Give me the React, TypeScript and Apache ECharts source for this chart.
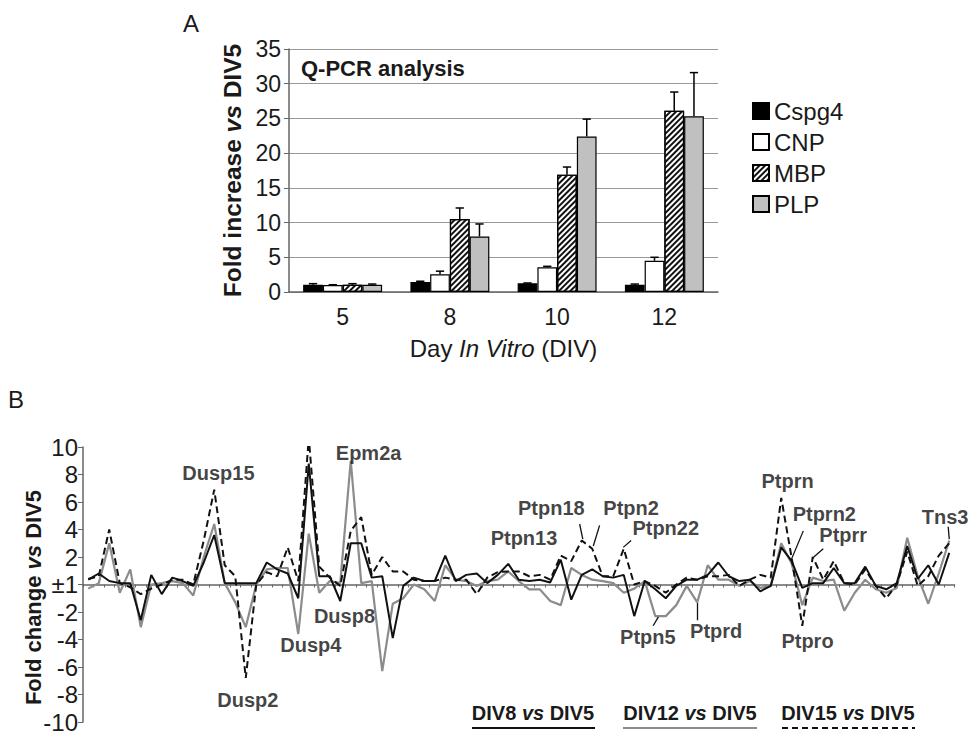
import React, { useEffect, useRef } from 'react';
import * as echarts from 'echarts';

const FONT = 'Liberation Sans, Arial, sans-serif';

// ---------- Panel A: Q-PCR ----------
const days = ['5', '8', '10', '12'];
const barNames = ['Cspg4', 'CNP', 'MBP', 'PLP'];
const cspg4 = [1.05, 1.45, 1.25, 1.05];
const cspg4Err = [1.2, 1.55, 1.3, 1.15];
const cnp = [1.0, 2.55, 3.55, 4.5];
const cnpErr = [1.05, 3.0, 3.7, 5.0];
const mbp = [1.05, 10.5, 16.9, 26.1];
const mbpErr = [1.2, 12.1, 18.0, 28.8];
const plp = [1.05, 8.0, 22.4, 25.3];
const plpErr = [1.15, 9.8, 24.9, 31.6];

// ---------- Panel B: fold change (axis units, 0 drawn as ±1) ----------
const div8 = [
  0.35, 0.8, 0.25, 0.1, 0.1, -2.6, 0.7, -0.7, 0.5, 0.25,
  -0.1, 1.6, 3.6, 0.1, 0.1, 0.1, 0.1, 1.6, 1.1, 0.8,
  -1.0, 8.8, 0.6, 0.6, -1.2, 3.0, 3.0, 0.5, 0.6, -3.9,
  -0.1, 0.5, 0.25, 0.25, 2.1, 0.25, 0.7, 0.8, 0.1, 0.7,
  1.5, 0.35, 0.25, 0.35, 0.15, 1.8, -1.1, 0.7, 1.1, 0.6,
  0.5, 0.7, -2.3, 0.25, -0.35, -1.0, -0.1, 0.35, 0.35, 0.7,
  1.6, 0.6, 0.25, 0.35, -0.5, -0.1, 2.7, 1.7, -0.25, 0.1,
  0.1, 1.2, 0.1, 0.1, 1.3, -0.1, -0.35, 0.1, 2.8, 0.4,
  1.4, 0.0, 2.3,
];
const div12 = [
  -0.3, 0.1, 3.0, -0.6, 1.1, -3.1, 0.0, 0.1, 0.25, 0.1,
  -0.8, 2.0, 4.4, 0.1, -1.3, -3.1, 0.0, 1.1, 1.2, 1.2,
  -3.6, 3.7, -0.6, 0.25, 0.1, 9.0, 0.1, 0.25, -6.3, -1.4,
  -1.0, 0.0, -0.35, -1.2, 1.4, 0.35, 0.25, -0.1, 0.25, 0.35,
  0.95, 0.25, -0.35, -0.35, -1.2, -1.5, 1.2, 0.7, 0.35, 0.25,
  0.1, -0.6, -0.3, 0.25, -2.3, -2.3, -1.5, -0.1, -1.3, 1.4,
  0.35, 0.35, -0.1, 0.25, -0.25, -0.1, 3.0, 1.5, -1.5, 0.5,
  0.25, 0.35, -1.9, -0.6, 0.35, -0.35, -0.6, -0.25, 3.4, 0.6,
  -1.4, 0.8, 3.2,
];
const div15 = [
  0.4, 0.6, 4.0, 0.1, -0.2, -0.7, -0.3, 0.0, 0.35, 0.35,
  0.0, 3.2, 6.9, 1.4, 0.6, -6.8, 0.0, 0.9, 0.6, 2.7,
  0.25, 10.7, 1.3, 0.5, -0.1, 3.9, 4.9, 0.7, 2.0, 0.95,
  0.95, 0.35, 0.25, 0.25, 0.5, 0.35, 0.35, -0.7, 0.5, 0.9,
  0.95, 0.95, 0.6, 0.7, 0.35, 2.1, 1.7, 3.2, 2.6, 0.6,
  0.6, 2.6, 0.0, 0.25, -0.1, -0.6, 0.0, 0.5, 0.35, 0.6,
  0.6, 0.7, -0.1, 0.35, 0.7, 0.5, 6.3, 1.9, -3.0, 2.0,
  0.35, 1.7, 0.1, 0.0, 1.1, -0.1, -1.0, 0.0, 2.4, -0.1,
  0.6, 2.1, 3.0,
];
const geneIdx = div8.map((_, i) => String(i + 1));

// gene labels: [name, category position, axis value]
const geneLabels: [string, number, number][] = [
  ['Dusp15', 12.4, 8.1],
  ['Dusp5', 21.5, 11.6],
  ['Epm2a', 26.7, 9.6],
  ['Dusp8', 24.4, -2.3],
  ['Dusp4', 21.2, -4.4],
  ['Dusp2', 15.2, -8.4],
  ['Ptpn13', 41.5, 3.4],
  ['Ptpn18', 44.1, 5.6],
  ['Ptpn2', 51.7, 5.6],
  ['Ptpn22', 55.0, 4.1],
  ['Ptpn5', 53.3, -3.8],
  ['Ptprd', 59.8, -3.4],
  ['Ptprn', 66.6, 7.5],
  ['Ptprn2', 70.1, 5.1],
  ['Ptprr', 71.9, 3.6],
  ['Ptpro', 68.5, -4.1],
  ['Tns3', 81.6, 4.9],
];
// leader lines: [x1, y1, x2, y2] in (category position, axis value)
const leaders: [number, number, number, number][] = [
  [46.8, 4.4, 47.1, 3.3],
  [48.7, 4.3, 48.1, 2.8],
  [51.7, 3.2, 50.95, 2.7],
  [53.8, -3.0, 54.3, -2.35],
  [58.0, -2.6, 58.0, -1.35],
  [68.1, 3.9, 66.9, 1.7],
  [70.0, 2.6, 69.1, 2.0],
  [81.9, 4.2, 82.0, 3.3],
];

export default function App() {
  const ref = useRef<HTMLDivElement>(null);
  useEffect(() => {
    if (!ref.current) return;
    const chart = echarts.init(ref.current, undefined, { renderer: 'svg' });

    const barVals = [cspg4, cnp, mbp, plp];
    const errVals = [cspg4Err, cnpErr, mbpErr, plpErr];
    const errData: number[][] = [];
    barVals.forEach((vals, k) =>
      vals.forEach((v, c) => errData.push([c, k, v, errVals[k][c]]))
    );
    const BAR_RATIO = 0.184;

    const barColors = ['#000', '#fff', '#fff', '#c0c0c0'];
    const hatch = {
      symbol: 'rect',
      symbolSize: 1,
      dashArrayX: [[1, 0]],
      dashArrayY: [1.2, 1.8],
      rotation: -Math.PI / 4,
      color: '#111',
    };

    const txt = '#1a1a1a';

    const option: any = {
      animation: false,
      textStyle: { fontFamily: FONT },
      grid: [
        { left: 289, top: 49, width: 429, height: 243 },
        { left: 83, top: 447, width: 871.5, height: 276 },
      ],
      legend: {
        data: barNames,
        orient: 'vertical',
        left: 747,
        top: 94,
        itemWidth: 16,
        itemHeight: 16,
        itemGap: 7,
        icon: 'rect',
        textStyle: { fontSize: 24, color: txt, fontFamily: FONT },
      },
      xAxis: [
        {
          type: 'category',
          gridIndex: 0,
          data: days,
          axisLine: { lineStyle: { color: '#666', width: 1.5 } },
          axisTick: { show: false },
          axisLabel: { fontSize: 23, color: txt, margin: 13, fontFamily: FONT },
          name: '{n|Day }{i|In Vitro}{n| (DIV)}',
          nameLocation: 'middle',
          nameGap: 44,
          nameTextStyle: {
            rich: {
              n: { fontSize: 24, color: txt, fontFamily: FONT },
              i: { fontSize: 24, color: txt, fontStyle: 'italic', fontFamily: FONT },
            },
          },
        },
        {
          type: 'category',
          gridIndex: 1,
          data: geneIdx,
          boundaryGap: true,
          axisLine: { onZero: true, lineStyle: { color: '#666', width: 1.5 } },
          axisTick: { show: true, interval: 0, length: 3, lineStyle: { color: '#666' } },
          axisLabel: { show: false },
        },
        {
          type: 'value',
          gridIndex: 1,
          min: -0.5,
          max: div8.length - 0.5,
          show: false,
        },
      ],
      yAxis: [
        {
          type: 'value',
          gridIndex: 0,
          min: 0,
          max: 35,
          interval: 5,
          axisLine: { show: true, lineStyle: { color: '#666', width: 1.5 } },
          axisTick: { show: true, length: 5, lineStyle: { color: '#666' } },
          splitLine: { lineStyle: { color: '#999', width: 1 } },
          axisLabel: { fontSize: 23, color: txt, margin: 8, fontFamily: FONT },
          name: '{b|Fold increase }{i|vs}{b| DIV5}',
          nameLocation: 'middle',
          nameGap: 44,
          nameTextStyle: {
            rich: {
              b: { fontSize: 24.5, fontWeight: 'bold', color: txt, fontFamily: FONT },
              i: { fontSize: 24.5, fontWeight: 'bold', fontStyle: 'italic', color: txt, fontFamily: FONT },
            },
          },
        },
        {
          type: 'value',
          gridIndex: 1,
          min: -10,
          max: 10,
          interval: 2,
          axisLine: { show: true, onZero: false, lineStyle: { color: '#666', width: 1.5 } },
          axisTick: { show: true, length: 5, lineStyle: { color: '#666' } },
          splitLine: { show: false },
          axisLabel: {
            fontSize: 24,
            color: txt,
            margin: 5,
            fontFamily: FONT,
            formatter: (v: number) => (v === 0 ? '±1' : String(v)),
          },
          name: '{b|Fold change }{i|vs}{b| DIV5}',
          nameLocation: 'middle',
          nameGap: 39,
          nameMoveOverlap: false,
          nameTextStyle: {
            padding: [0, 26, 0, 0],
            rich: {
              b: { fontSize: 22, fontWeight: 'bold', color: txt, fontFamily: FONT },
              i: { fontSize: 22, fontWeight: 'bold', fontStyle: 'italic', color: txt, fontFamily: FONT },
            },
          },
        },
      ],
      series: [
        ...barNames.map((name, k) => ({
          name,
          type: 'bar',
          xAxisIndex: 0,
          yAxisIndex: 0,
          data: barVals[k],
          barWidth: (BAR_RATIO * 100).toFixed(1) + '%',
          barGap: '0%',
          itemStyle: {
            color: barColors[k],
            borderColor: '#000',
            borderWidth: 1.2,
            decal: k === 2 ? hatch : undefined,
          },
        })),
        {
          type: 'custom',
          xAxisIndex: 0,
          yAxisIndex: 0,
          data: errData,
          encode: { x: 0, y: 3 },
          z: 5,
          renderItem: (params: any, api: any) => {
            const c = api.value(0);
            const k = api.value(1);
            const base = api.coord([c, api.value(2)]);
            const top = api.coord([c, api.value(3)]);
            const bw = api.size([1, 0])[0] * BAR_RATIO;
            const x = base[0] + (k - 1.5) * bw;
            const cap = bw * 0.42;
            const st = { stroke: '#000', lineWidth: 1.5 };
            return {
              type: 'group',
              children: [
                { type: 'line', shape: { x1: x, y1: base[1], x2: x, y2: top[1] }, style: st },
                { type: 'line', shape: { x1: x - cap / 2, y1: top[1], x2: x + cap / 2, y2: top[1] }, style: st },
              ],
            };
          },
        },
        {
          name: 'DIV12 vs DIV5',
          type: 'line',
          xAxisIndex: 1,
          yAxisIndex: 1,
          data: div12,
          symbol: 'none',
          lineStyle: { color: '#8c8c8c', width: 2.2 },
          z: 3,
        },
        {
          name: 'DIV15 vs DIV5',
          type: 'line',
          xAxisIndex: 1,
          yAxisIndex: 1,
          data: div15,
          symbol: 'none',
          lineStyle: { color: '#111', width: 2, type: [7, 4] },
          z: 4,
        },
        {
          name: 'DIV8 vs DIV5',
          type: 'line',
          xAxisIndex: 1,
          yAxisIndex: 1,
          data: div8,
          symbol: 'none',
          lineStyle: { color: '#111', width: 2 },
          z: 5,
        },
        {
          type: 'scatter',
          xAxisIndex: 2,
          yAxisIndex: 1,
          data: geneLabels.map(([n, x, y]) => ({ name: n, value: [x, y] })),
          symbolSize: 0,
          silent: true,
          z: 10,
          label: {
            show: true,
            position: 'inside',
            formatter: '{b}',
            fontSize: 20,
            fontWeight: 'bold',
            color: '#111',
            fontFamily: FONT,
          },
        },
        {
          type: 'lines',
          coordinateSystem: 'cartesian2d',
          xAxisIndex: 2,
          yAxisIndex: 1,
          data: leaders.map(([x1, y1, x2, y2]) => ({ coords: [[x1, y1], [x2, y2]] })),
          lineStyle: { color: '#111', width: 1.3, opacity: 1 },
          z: 10,
        },
      ],
      graphic: [
        { type: 'text', left: 183, top: 11, style: { text: 'A', fontSize: 24, fill: txt, fontFamily: FONT } },
        { type: 'text', left: 8, top: 387, style: { text: 'B', fontSize: 24, fill: txt, fontFamily: FONT } },
        {
          type: 'text',
          left: 301,
          top: 57,
          style: { text: 'Q-PCR analysis', fontSize: 22, fontWeight: 'bold', fill: txt, fontFamily: FONT },
        },
        ...[
          { t: '{a|DIV8 }{i|vs}{a| DIV5}', cx: 533, x1: 472, x2: 595, color: '#111', dash: null },
          { t: '{a|DIV12 }{i|vs}{a| DIV5}', cx: 690, x1: 623, x2: 757, color: '#8c8c8c', dash: null },
          { t: '{a|DIV15 }{i|vs}{a| DIV5}', cx: 848, x1: 782, x2: 915, color: '#111', dash: [6, 4] },
        ].flatMap((l) => [
          {
            type: 'text',
            x: l.cx,
            y: 713,
            style: {
              text: l.t,
              align: 'center',
              verticalAlign: 'middle',
              fill: txt,
              rich: {
                a: { fontSize: 20, fontWeight: 'bold', fill: txt, fontFamily: FONT },
                i: { fontSize: 20, fontWeight: 'bold', fontStyle: 'italic', fill: txt, fontFamily: FONT },
              },
            },
          },
          {
            type: 'line',
            shape: { x1: l.x1, y1: 728, x2: l.x2, y2: 728 },
            style: { stroke: l.color, lineWidth: 2, lineDash: l.dash || undefined },
          },
        ]),
      ],
    };
    chart.setOption(option);
    return () => chart.dispose();
  }, []);
  return (
    <div
      ref={ref}
      style={{ position: 'fixed', left: 0, top: 0, width: 969, height: 734, background: '#fff' }}
    />
  );
}
